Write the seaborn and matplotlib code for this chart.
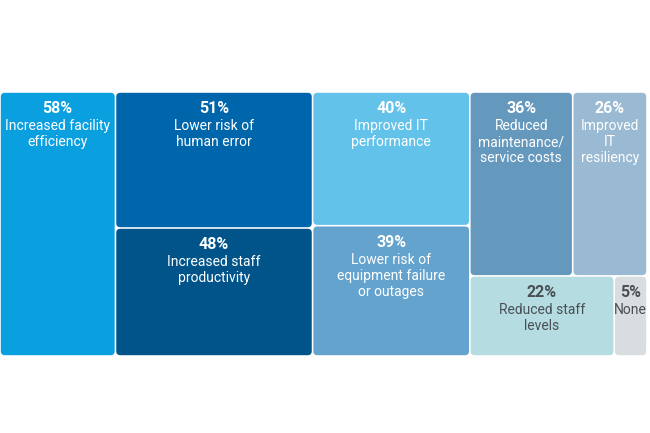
import matplotlib.pyplot as plt
import seaborn as sns
from matplotlib.patches import FancyBboxPatch

# Data
values = [58, 51, 48, 40, 39, 36, 26, 22, 5]
labels = ["Increased facility\nefficiency", "Lower risk of\nhuman error",
          "Increased staff\nproductivity", "Improved IT\nperformance",
          "Lower risk of\nequipment failure\nor outages",
          "Reduced\nmaintenance/\nservice costs", "Improved\nIT\nresiliency",
          "Reduced staff\nlevels", "None"]
colors = ["#0a9fdf", "#0066ac", "#00548a", "#62c2ea", "#64a3cd",
          "#6598bd", "#99bad2", "#b5dde1", "#d8dde0"]
text_colors = ["white"] * 7 + ["#4a4f54", "#4a4f54"]
# columns -> rows -> cell indices
layout = [[[0]], [[1], [2]], [[3], [4]], [[5, 6], [7, 8]]]

sns.set_theme(style="white")
plt.rcParams['font.family'] = ['Roboto', 'DejaVu Sans']

W, H = 647, 264
fig = plt.figure(figsize=(6.5, 4.33), dpi=100)
ax = fig.add_axes([0, 1 - 356 / 433, W / 650, H / 433])
ax.set_xlim(0, W)
ax.set_ylim(0, H)
ax.axis('off')

total = sum(values)
gap = 0.8
x0 = 0
for col in layout:
    colsum = sum(values[i] for row in col for i in row)
    colw = W * colsum / total
    ytop = H
    for row in col:
        rowsum = sum(values[i] for i in row)
        rowh = H * rowsum / colsum
        x = x0
        for i in row:
            cw = colw * values[i] / rowsum
            box = FancyBboxPatch((x + gap, ytop - rowh + gap), cw - 2 * gap, rowh - 2 * gap,
                                 boxstyle="round,pad=0,rounding_size=4",
                                 facecolor=colors[i], edgecolor='none')
            ax.add_patch(box)
            cx = x + cw / 2
            ax.text(cx, ytop - 9, f"{values[i]}%", ha='center', va='top',
                    fontsize=11.5, fontweight='bold', color=text_colors[i])
            ax.text(cx, ytop - 27, labels[i], ha='center', va='top',
                    fontsize=10, color=text_colors[i], linespacing=1.2)
            x += cw
        ytop -= rowh
    x0 += colw

fig.savefig("out.png", dpi=100)
